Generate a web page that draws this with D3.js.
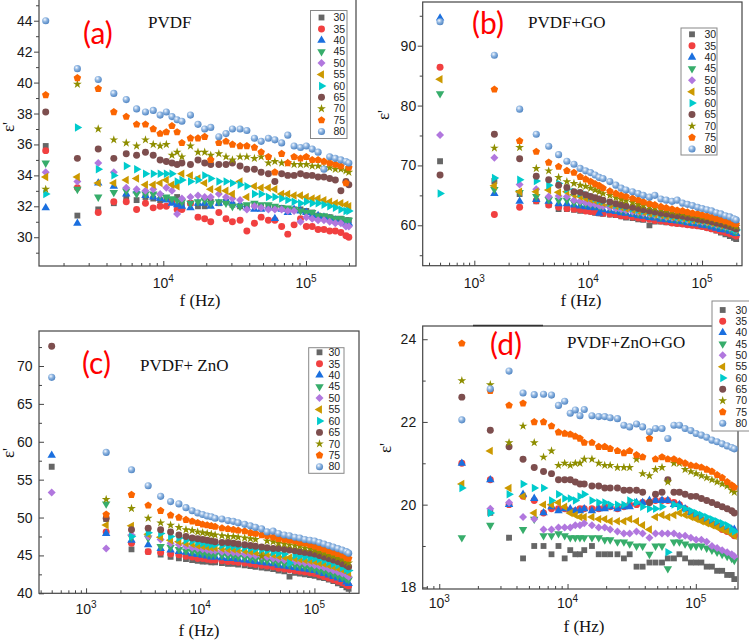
<!DOCTYPE html>
<html>
<head>
<meta charset="utf-8">
<title>ε' vs f</title>
<style>
  body { margin: 0; background: #fff; }
  svg { display: block; }
  .tick line { stroke: #444; stroke-width: 1; }
  .tick text { font-family: "Liberation Sans", Arial, sans-serif; font-size: 14px; fill: #1a1a1a; }
  .frame { fill: none; stroke: #444; stroke-width: 1.2; }
  .xlab { font-family: "Liberation Sans", Arial, sans-serif; font-size: 14px; fill: #1a1a1a; }
  .axtitle { font-family: "Liberation Serif", "Times New Roman", serif; font-size: 17px; fill: #111; }
  .tag { font-family: Lato, "Open Sans", sans-serif; font-size: 30px; fill: #ff0000; }
  .name { font-family: "Liberation Serif", "Times New Roman", serif; font-size: 17px; fill: #111; }
  .leg text { font-family: "Liberation Sans", Arial, sans-serif; font-size: 10.5px; fill: #222; }
  .leg rect { fill: #fff; stroke: #888; stroke-width: 1; }
</style>
</head>
<body>
<svg id="chart" width="749" height="642"></svg>

<script src="https://d3js.org/d3.v7.min.js"></script>
<script>
// temperatures (legend) and Origin "colorful" palette
const temps = ["30", "35", "40", "45", "50", "55", "60", "65", "70", "75", "80"];
const colors = ["#666666", "#f14040", "#1a6fdf", "#37ad6b", "#b177de", "#cc9900",
                "#00cbcc", "#7d4e4e", "#8e8e00", "#fb6501", "#6699cc"];

// measured frequencies (Hz)
const freqA = [1500, 2500, 3500, 4500, 5500, 6500, 7500, 8500, 9500, 10500, 11500, 12500, 13500,
  15500, 17500, 19500, 21500, 24500, 27500, 30500, 34500, 38500, 43500, 48500, 54500, 60500,
  67500, 74500, 82500, 91500, 100500, 110500, 121500, 133500, 146500, 160500, 175500, 190500, 199500];
const freqB = [500, ...freqA];

// (a) PVDF, one row per temperature 30..80
const epsA = [
  [35.9,31.4,31.8,32.2,32.6,32.4,32.6,32.5,32.4,32.5,32.3,32.6,32.1,32.2,32.0,32.0,32.3,32.2,32.3,32.1,32.0,32.0,32.1,32.0,32.0,31.9,31.9,31.8,31.8,31.8,31.7,31.6,31.4,31.3,31.3,31.2,31.2,31.1,31.1],
  [35.6,33.2,31.6,32.3,32.3,31.8,32.2,31.9,32.0,32.0,32.3,31.8,31.8,32.2,31.3,31.2,31.0,31.6,31.2,31.0,31.1,30.4,30.9,31.3,31.1,31.1,30.7,30.2,30.8,31.2,30.7,30.7,30.5,30.5,30.4,30.4,30.3,30.1,30.0],
  [31.9,30.9,33.5,33.3,32.8,33.0,32.7,32.6,32.5,32.4,32.2,32.1,32.0,31.9,32.2,32.2,32.0,32.2,32.4,32.2,32.1,31.9,31.8,31.8,31.9,31.2,31.8,31.6,31.8,31.7,31.6,31.4,31.4,31.3,31.2,31.1,31.0,30.9,30.9],
  [34.8,33.1,32.6,32.9,33.0,32.8,32.8,32.8,32.7,32.6,32.5,32.4,32.3,32.2,32.3,32.4,32.2,32.3,32.2,32.0,32.0,32.1,32.2,32.1,32.1,32.0,31.9,31.9,31.8,31.7,31.6,31.6,31.4,31.4,31.3,31.2,31.2,31.1,31.1],
  [34.2,33.6,34.8,34.2,33.2,33.1,33.0,33.1,32.8,33.2,33.0,31.5,32.5,32.6,32.7,32.6,32.6,32.8,32.6,32.5,32.4,31.8,32.0,31.9,31.8,31.8,31.8,31.7,31.7,31.0,31.3,31.2,31.1,31.1,31.0,30.9,30.9,30.7,30.7],
  [33.9,33.9,33.5,33.5,33.7,33.8,33.4,33.4,33.5,33.7,33.4,33.3,34.1,34.0,33.8,33.5,33.1,33.1,33.0,32.8,33.6,32.6,33.3,33.2,33.2,33.1,32.8,32.8,32.7,32.7,32.6,32.5,32.5,32.4,32.3,32.2,32.2,32.1,32.0],
  [32.8,37.1,34.4,34.0,34.6,34.4,34.1,34.1,34.1,34.1,34.1,33.6,33.7,33.6,33.7,34.0,33.8,33.6,33.6,33.5,33.4,33.3,32.8,32.8,32.6,32.6,32.5,32.4,32.3,32.2,32.3,32.2,32.2,32.1,32.0,31.9,31.8,31.7,31.7],
  [38.1,35.1,35.7,35.1,35.4,35.3,35.5,35.3,35.0,34.9,34.8,34.7,34.8,34.7,35.0,34.8,34.7,34.7,34.7,34.8,34.6,34.4,34.4,34.2,34.1,33.6,34.1,34.0,34.0,34.1,34.0,34.0,33.9,33.9,33.8,33.7,33.0,33.6,33.4],
  [33.1,39.9,37.0,36.3,36.1,35.9,36.3,36.0,35.9,36.0,35.3,35.5,35.2,35.9,35.5,35.5,35.3,35.4,35.2,35.0,35.2,35.2,35.1,35.2,34.8,34.9,34.8,34.8,34.7,34.7,34.7,34.6,34.6,34.5,34.5,34.4,34.4,34.3,34.2],
  [39.2,40.3,39.6,38.1,37.8,37.3,37.3,37.0,36.7,36.8,37.2,36.8,36.1,36.4,36.4,36.5,35.0,36.1,36.2,36.0,35.9,35.9,35.8,35.5,35.2,34.2,35.4,34.8,35.2,35.1,35.2,35.0,35.0,34.9,34.8,34.7,34.6,33.5,34.5],
  [44.0,40.9,40.2,39.3,38.9,38.3,38.1,38.2,37.9,38.1,37.8,37.6,37.5,37.9,37.3,37.0,37.1,36.5,36.7,37.0,37.0,36.9,36.4,36.2,36.4,36.3,36.1,36.6,35.9,35.8,35.9,35.7,35.5,34.4,35.2,35.1,35.0,34.9,34.8]
];

// (b) PVDF+GO
const epsB = [
  [70.7,67.4,65.2,64.0,63.4,62.7,62.7,62.6,62.4,62.4,62.3,62.1,62.0,61.9,61.8,61.7,61.5,61.3,61.2,61.0,60.9,60.0,60.6,60.6,60.5,60.4,60.3,60.2,60.1,60.0,59.9,59.8,59.6,59.4,59.1,58.8,58.5,58.2,57.9,57.7],
  [86.4,61.8,63.0,64.1,63.4,63.0,62.8,62.7,62.6,62.4,62.3,62.2,62.1,62.0,61.9,61.8,61.6,61.5,61.4,61.2,61.1,61.0,60.8,60.7,60.6,60.4,60.3,60.2,60.1,60.0,59.9,59.8,59.6,59.4,59.2,59.0,58.8,58.6,58.4,58.2],
  [94.6,65.3,64.0,64.3,64.0,63.6,63.6,63.4,63.2,63.1,63.0,62.9,62.0,62.6,62.4,62.3,62.1,62.0,61.8,61.6,61.5,61.3,61.2,61.0,60.9,60.8,60.7,60.6,60.4,60.3,60.2,60.0,59.9,59.7,59.5,59.3,59.2,59.0,58.8,58.6],
  [82.0,66.0,65.5,64.8,64.3,64.2,64.2,63.8,63.7,63.6,63.5,63.4,63.2,63.1,62.9,62.7,62.5,62.4,62.2,62.0,61.9,61.7,61.6,61.4,61.3,61.2,61.0,60.9,60.8,60.7,60.6,60.5,60.3,60.2,60.0,59.8,59.6,59.4,59.1,58.9],
  [75.1,71.3,66.8,66.0,64.8,64.9,64.8,64.2,64.0,63.8,63.6,63.5,63.3,63.2,63.0,62.8,62.7,62.5,62.3,62.2,62.0,61.9,61.7,61.6,61.4,61.3,61.2,61.1,60.9,60.8,60.7,60.6,60.5,60.3,60.1,60.0,59.8,59.6,59.4,59.2],
  [84.4,66.6,65.6,65.6,65.9,65.5,65.6,65.1,64.8,64.5,64.3,64.1,63.9,63.7,63.4,63.2,63.0,62.8,62.6,62.4,62.2,62.0,61.8,61.7,61.5,61.4,61.3,61.2,61.0,60.9,60.8,60.7,60.6,60.4,60.2,60.0,59.9,59.7,59.5,59.4],
  [65.3,67.9,67.6,67.4,66.7,67.0,66.0,65.6,65.3,65.1,64.8,64.5,64.2,64.0,63.7,63.4,63.2,63.0,62.8,62.6,62.4,62.2,62.0,61.8,61.7,61.5,61.4,61.3,61.1,61.0,60.9,60.8,60.7,60.5,60.3,60.1,59.9,59.7,59.4,59.2],
  [68.4,75.2,71.1,68.2,67.6,66.7,66.3,65.6,65.5,65.1,64.8,64.6,64.4,64.2,63.9,63.6,63.4,63.2,63.0,62.8,62.6,62.4,62.2,62.0,61.9,61.7,61.6,61.5,61.3,61.2,61.0,60.9,60.8,60.6,60.4,60.2,60.0,59.8,59.6,59.4],
  [null,72.9,73.0,69.5,69.1,68.0,67.3,67.0,66.7,66.5,66.2,65.9,65.6,65.3,65.0,64.6,64.3,64.1,63.8,63.5,63.3,63.1,62.9,62.7,62.5,62.3,62.2,62.0,61.9,61.7,61.6,61.4,61.3,61.1,60.9,60.7,60.5,60.2,60.0,59.8],
  [null,82.7,74.1,72.3,70.5,69.8,69.1,68.8,68.1,67.7,67.3,66.9,66.6,66.2,65.7,65.3,65.0,64.8,64.5,64.2,63.9,63.6,63.4,63.1,62.9,62.7,62.5,62.4,62.2,62.0,61.9,61.7,61.5,61.3,61.1,60.9,60.7,60.5,60.3,60.2],
  [94.0,88.4,79.4,75.2,73.2,71.8,70.7,70.2,69.5,69.1,68.8,68.4,68.0,67.8,67.3,66.7,66.2,65.9,65.6,65.3,65.0,64.7,65.0,64.4,64.2,64.0,64.2,63.7,63.5,63.3,63.0,62.8,62.6,62.4,62.1,61.9,61.6,61.4,61.1,60.9]
];

// (c) PVDF+ ZnO
const epsC = [
  [56.7,49.8,45.8,45.5,45.1,44.8,44.6,44.5,44.4,44.3,44.2,44.2,44.1,44.1,44.0,43.9,43.9,43.8,43.7,43.6,43.5,43.4,43.3,43.2,43.0,42.9,42.2,42.7,42.6,42.5,42.4,42.3,42.1,42.0,41.8,41.6,41.3,41.1,40.8,40.6],
  [null,48.1,46.6,45.5,45.4,45.2,45.1,44.9,44.8,44.6,44.6,44.5,44.4,44.4,44.3,44.2,44.2,44.1,44.0,43.9,43.8,43.7,43.6,43.5,43.3,43.2,43.1,43.0,42.9,42.8,42.7,42.6,42.4,42.2,42.0,41.8,41.6,41.4,41.1,41.0],
  [58.2,47.9,47.0,46.4,45.9,45.7,45.5,45.4,45.2,45.1,45.0,44.9,44.8,44.8,44.7,44.6,44.6,44.5,44.4,44.3,44.2,44.1,44.0,43.9,43.7,43.6,43.5,43.4,43.3,43.2,43.1,43.0,42.8,42.6,42.4,42.2,42.0,41.8,41.5,41.3],
  [null,51.8,47.4,47.3,46.2,46.1,45.8,45.6,45.5,45.4,45.3,45.2,45.1,45.1,45.0,44.9,44.9,44.8,44.7,44.6,44.5,44.4,44.3,44.2,44.0,43.9,43.8,43.7,43.6,43.5,43.3,43.2,43.0,42.9,42.7,42.5,42.3,42.1,41.9,41.8],
  [53.3,45.9,47.7,47.5,47.1,46.6,46.4,46.2,46.0,45.9,45.8,45.7,45.6,45.6,45.5,45.4,45.4,45.3,45.2,45.1,45.0,44.9,44.8,44.6,44.5,44.4,44.3,44.2,44.1,44.0,43.9,43.7,43.6,43.4,43.2,43.0,42.8,42.6,42.4,42.2],
  [null,49.0,48.9,47.8,47.4,47.0,46.8,46.6,46.5,46.3,46.2,46.1,46.0,46.0,45.9,45.8,45.8,45.7,45.6,45.5,45.4,45.3,45.2,45.1,44.9,44.8,44.7,44.6,44.5,44.4,44.3,44.2,44.0,43.9,43.7,43.5,43.3,43.1,42.9,42.7],
  [null,null,47.5,48.0,47.9,47.5,47.3,47.0,46.9,46.7,46.6,46.5,46.4,46.4,46.3,46.2,46.2,46.1,46.0,45.9,45.8,45.7,45.6,45.4,45.3,45.2,44.0,45.0,44.9,44.8,44.7,44.6,44.5,44.3,44.1,43.9,43.7,43.4,43.2,43.0],
  [72.6,49.9,48.4,48.6,48.4,48.1,47.7,47.5,47.3,47.2,47.1,47.0,46.9,46.8,46.7,46.7,46.6,46.5,46.4,46.3,46.2,46.1,46.0,45.9,45.9,45.8,45.7,45.6,45.5,45.4,45.3,45.2,45.0,44.8,44.6,44.4,44.2,43.9,43.7,43.5],
  [null,52.4,51.2,49.9,49.3,49.0,48.7,48.4,48.3,48.1,48.0,47.9,47.8,47.7,47.6,47.5,47.5,47.4,47.3,47.2,47.1,44.9,46.9,46.8,46.6,46.5,46.4,46.3,46.2,46.0,45.9,45.7,45.5,45.3,45.1,44.9,44.7,44.5,44.2,44.0],
  [null,50.4,53.0,51.6,50.9,50.3,50.0,49.7,49.5,49.3,49.1,49.0,48.9,48.8,48.6,48.5,48.4,48.3,48.2,48.0,47.9,47.7,47.6,47.4,47.2,47.1,47.0,46.9,46.7,46.6,46.4,46.2,46.0,45.8,45.6,45.4,45.2,45.0,44.7,44.6],
  [68.5,58.6,56.3,54.2,52.8,52.1,51.8,51.3,50.9,50.6,50.4,50.2,50.1,49.9,49.8,49.6,49.5,49.3,49.1,48.9,48.7,48.5,48.1,48.2,47.9,47.7,47.6,47.4,47.3,47.1,47.0,46.9,46.7,46.5,46.3,46.1,45.9,45.7,45.5,45.3]
];

// (d) PVDF+ZnO+GO
const epsD = [
  [null,19.8,19.2,18.7,19.0,19.0,18.8,19.0,18.7,18.9,18.8,18.8,18.9,19.0,18.8,18.8,18.8,18.8,18.7,18.8,18.5,18.5,18.6,18.6,18.6,18.7,18.7,18.8,18.7,18.6,18.6,18.6,18.5,18.5,18.4,18.4,18.3,18.3,18.2],
  [21.0,20.6,20.0,20.2,20.1,19.8,19.9,19.9,19.9,19.85,19.85,19.9,19.9,19.9,19.9,19.95,19.95,19.9,19.95,20.0,20.0,20.05,20.05,20.1,20.1,20.1,20.05,20.0,19.9,19.8,19.7,19.65,19.6,19.55,19.5,19.4,19.35,19.3,19.25],
  [21.0,20.6,20.0,20.25,20.15,19.8,19.95,19.85,19.9,19.9,19.85,19.85,19.9,19.85,19.9,19.9,19.95,19.9,19.95,19.95,20.05,20.05,20.1,20.1,20.1,20.1,20.0,20.0,19.9,19.8,19.75,19.65,19.6,19.55,19.5,19.45,19.4,19.4,19.4],
  [19.2,19.5,null,19.4,19.65,19.25,19.25,19.3,19.25,19.2,19.2,19.2,19.2,19.2,19.2,19.15,19.15,19.1,19.1,19.05,19.0,19.0,18.8,19.0,19.0,18.45,19.1,19.1,19.05,19.0,19.0,19.0,18.95,18.9,18.85,18.8,18.75,18.7,18.65],
  [null,19.9,20.05,19.7,19.65,19.4,19.4,19.45,19.45,19.45,19.5,19.5,19.55,19.5,19.45,19.45,19.4,19.35,19.3,19.3,19.35,19.3,19.2,19.3,19.3,19.3,19.3,19.25,19.25,19.2,19.15,19.15,19.1,19.0,18.95,18.9,18.85,18.8,18.75],
  [20.5,21.3,20.4,20.2,19.8,20.0,20.0,20.05,19.95,19.8,19.75,19.7,19.7,19.7,19.65,19.65,19.6,19.6,19.6,19.65,19.6,19.5,19.4,19.7,19.75,19.7,19.75,19.8,19.75,19.7,19.65,19.6,19.55,19.5,19.45,19.4,19.35,19.3,19.25],
  [20.4,19.8,20.25,20.5,20.4,20.4,20.1,20.25,20.15,20.15,20.1,20.2,20.25,20.1,20.05,20.05,20.0,20.0,20.0,20.1,20.05,19.95,19.9,19.9,19.95,18.85,20.0,19.95,19.9,19.85,19.8,19.75,19.7,19.65,19.6,19.55,19.5,19.4,19.35],
  [22.6,21.8,21.4,21.1,20.9,20.8,20.75,20.6,20.6,20.6,20.55,20.5,20.5,20.45,20.45,20.4,20.4,20.4,20.35,20.35,20.35,20.3,20.05,20.25,20.3,20.6,20.3,20.3,20.25,20.2,20.2,20.15,20.1,20.05,20.0,19.95,19.9,19.85,19.8],
  [23.0,22.9,21.5,21.9,21.5,21.15,21.3,20.95,21.0,20.95,21.0,21.0,21.1,21.1,21.0,20.95,20.95,20.9,20.9,20.9,21.1,20.75,20.7,20.85,20.9,20.55,21.0,21.0,20.85,20.8,20.75,20.7,20.65,20.6,20.55,20.5,20.45,20.35,20.3],
  [23.9,22.75,22.4,22.45,22.0,22.0,21.9,21.75,21.72,21.7,21.65,21.6,21.5,21.5,21.4,21.4,21.35,21.3,21.25,21.3,21.2,21.15,21.6,21.1,21.15,21.1,21.1,21.05,21.0,20.95,20.93,20.9,20.85,20.8,20.72,20.65,20.55,20.47,20.42],
  [22.05,22.8,23.23,22.7,22.66,22.67,22.65,22.4,22.5,22.21,22.29,22.15,22.3,22.15,22.13,22.13,22.1,22.08,21.92,21.88,21.95,21.88,21.76,21.84,21.84,21.6,21.92,21.92,21.84,21.79,21.72,21.68,21.63,21.56,21.52,21.47,21.42,21.38,21.35]
];

// tick values
const yMajorA = [30, 32, 34, 36, 38, 40, 42, 44], yMinorA = [29, 31, 33, 35, 37, 39, 41, 43, 45];
const yMajorB = [60, 70, 80, 90], yMinorB = [55, 65, 75, 85, 95];
const yMajorC = [40, 45, 50, 55, 60, 65, 70], yMinorC = [42.5, 47.5, 52.5, 57.5, 62.5, 67.5, 72.5];
const yMajorD = [18, 20, 22, 24], yMinorD = [19, 21, 23];

const svg = d3.select("#chart");
const defs = svg.append("defs");

// shaded sphere for the 80 series
const grad = defs.append("radialGradient").attr("id", "sphere")
  .attr("cx", "38%").attr("cy", "34%").attr("r", "68%");
grad.append("stop").attr("offset", "0%").attr("stop-color", "#f4f8ff");
grad.append("stop").attr("offset", "45%").attr("stop-color", "#8db4e0");
grad.append("stop").attr("offset", "100%").attr("stop-color", "#4f84c2");

const pentagon = {
  draw(ctx, size) {
    const r = Math.sqrt(size / 2.3776);
    for (let i = 0; i < 5; i++) {
      const a = -Math.PI / 2 + i * 2 * Math.PI / 5;
      if (i === 0) ctx.moveTo(r * Math.cos(a), r * Math.sin(a));
      else ctx.lineTo(r * Math.cos(a), r * Math.sin(a));
    }
    ctx.closePath();
  }
};

const markers = [
  { type: d3.symbolSquare, size: 34, rot: 0 },
  { type: d3.symbolCircle, size: 38, rot: 0 },
  { type: d3.symbolTriangle, size: 31, rot: 0 },
  { type: d3.symbolTriangle, size: 31, rot: 180 },
  { type: d3.symbolSquare, size: 32, rot: 45 },
  { type: d3.symbolTriangle, size: 31, rot: -90 },
  { type: d3.symbolTriangle, size: 31, rot: 90 },
  { type: d3.symbolCircle, size: 38, rot: 0 },
  { type: d3.symbolStar, size: 24, rot: 0 },
  { type: pentagon, size: 37, rot: 0 },
  { type: d3.symbolCircle, size: 40, rot: 0 }
];
const fillOf = i => i === 10 ? "url(#sphere)" : colors[i];

const panels = [
  { key: "a", freq: freqA, eps: epsA, l: 39, r: 356, t: -2, b: 266,
    xDom: [1346, 224000], yDom: [28.14, 45.47], yMajor: yMajorA, yMinor: yMinorA, yOut: true,
    xMajor: [1e4, 1e5], xLabDy: 22, xTitle: [200, 306], yTitle: [14, 127],
    tag: ["(a)", 83, 44], name: ["PVDF", 148, 28],
    leg: { x0: 310.5, x1: 347, y0: 10.5, y1: 138.5, sx: 321.5, lx: 333.5, ey: 17.5, dy: 11.4 } },
  { key: "b", freq: freqB, eps: epsB, l: 422.7, r: 742, t: 2, b: 265.7,
    xDom: [352, 224400], yDom: [53.25, 97.3], yMajor: yMajorB, yMinor: yMinorB, yOut: true,
    xMajor: [1e3, 1e4, 1e5], xLabDy: 22, xTitle: [581, 306], yTitle: [389, 115],
    tag: ["(b)", 472, 34], name: ["PVDF+GO", 528, 28],
    leg: { x0: 681, x1: 717, y0: 28, y1: 155, sx: 692, lx: 704.5, ey: 34.3, dy: 11.47 } },
  { key: "c", freq: freqB, eps: epsC, l: 39, r: 359, t: 331, b: 593.3,
    xDom: [387, 245800], yDom: [40, 74.62], yMajor: yMajorC, yMinor: yMinorC, yOut: false,
    xMajor: [1e3, 1e4, 1e5], xLabDy: 21, xTitle: [199, 636], yTitle: [14, 453],
    tag: ["(c)", 82, 374], name: ["PVDF+ ZnO", 140, 371],
    leg: { x0: 308.7, x1: 344, y0: 347.7, y1: 473.3, sx: 319.5, lx: 328.5, ey: 352.3, dy: 11.44 } },
  { key: "d", freq: freqA, eps: epsD, l: 422.7, r: 738, t: 326, b: 589,
    xDom: [743, 213200], yDom: [17.96, 24.32], yMajor: yMajorD, yMinor: yMinorD, yOut: false,
    xMajor: [1e3, 1e4, 1e5], xLabDy: 19, xTitle: [584, 632], yTitle: [391, 448],
    tag: ["(d)", 490, 355], name: ["PVDF+ZnO+GO", 567, 348],
    leg: { x0: 712, x1: 760, y0: 301, y1: 431, sx: 722.7, lx: 735.5, ey: 310, dy: 11.33 } }
];

function drawPanel(p) {
  const x = d3.scaleLog().domain(p.xDom).range([p.l, p.r]);
  const y = d3.scaleLinear().domain(p.yDom).range([p.b, p.t]);
  const g = svg.append("g");

  const top = Math.max(p.t, 0);
  defs.append("clipPath").attr("id", "clip-" + p.key)
    .append("rect").attr("x", p.l).attr("y", top)
    .attr("width", p.r - p.l).attr("height", p.b - top);

  // y ticks
  const ySize = p.yOut ? 5 : -5;
  g.append("g").attr("transform", `translate(${p.l},0)`)
    .call(d3.axisLeft(y).tickValues(p.yMajor).tickSize(ySize)
      .tickPadding(p.yOut ? 1.5 : 6.5).tickFormat(d3.format("d")))
    .call(a => a.select(".domain").remove());
  g.append("g").attr("transform", `translate(${p.l},0)`)
    .call(d3.axisLeft(y).tickValues(p.yMinor).tickSize(p.yOut ? 3 : -3).tickFormat(""))
    .call(a => a.select(".domain").remove());

  // x ticks (inward), log minors
  const minors = x.ticks().filter(v => Math.abs(Math.log10(v) % 1) > 1e-6);
  g.append("g").attr("transform", `translate(0,${p.b})`)
    .call(d3.axisBottom(x).tickValues(p.xMajor).tickSize(-5).tickFormat(""))
    .call(a => a.select(".domain").remove());
  g.append("g").attr("transform", `translate(0,${p.b})`)
    .call(d3.axisBottom(x).tickValues(minors).tickSize(-3).tickFormat(""))
    .call(a => a.select(".domain").remove());

  p.xMajor.forEach(v => {
    const t = g.append("text").attr("class", "xlab")
      .attr("x", x(v)).attr("y", p.b + p.xLabDy).attr("text-anchor", "middle");
    t.append("tspan").text("10");
    t.append("tspan").attr("dy", -6).attr("font-size", 10).text(Math.round(Math.log10(v)));
  });

  g.append("rect").attr("class", "frame")
    .attr("x", p.l).attr("y", p.t).attr("width", p.r - p.l).attr("height", p.b - p.t);

  // axis titles
  g.append("text").attr("class", "axtitle").attr("text-anchor", "middle")
    .attr("x", p.xTitle[0]).attr("y", p.xTitle[1]).text("f (Hz)");
  g.append("text").attr("class", "axtitle").attr("text-anchor", "middle")
    .attr("transform", `translate(${p.yTitle[0]},${p.yTitle[1]}) rotate(-90)`)
    .attr("font-size", 15).text("ε'");

  // data
  const pts = g.append("g").attr("clip-path", `url(#clip-${p.key})`);
  p.eps.forEach((vals, si) => {
    const m = markers[si];
    const sym = d3.symbol().type(m.type).size(m.size);
    const rows = p.freq.map((f, i) => ({ f, v: vals[i] })).filter(d => d.v != null);
    pts.append("g").selectAll("path").data(rows).join("path")
      .attr("d", sym)
      .attr("transform", d => `translate(${x(d.f)},${y(d.v)}) rotate(${m.rot})`)
      .attr("fill", fillOf(si));
  });

  // labels
  g.append("text").attr("class", "tag").attr("x", p.tag[1]).attr("y", p.tag[2]).text(p.tag[0]);
  g.append("text").attr("class", "name").attr("x", p.name[1]).attr("y", p.name[2]).text(p.name[0]);

  // legend
  const L = p.leg;
  const lg = g.append("g").attr("class", "leg");
  lg.append("rect").attr("x", L.x0).attr("y", L.y0).attr("width", L.x1 - L.x0).attr("height", L.y1 - L.y0);
  const items = lg.selectAll("g.item").data(temps).join("g").attr("class", "item")
    .attr("transform", (d, i) => `translate(0,${L.ey + i * L.dy})`);
  items.append("path")
    .attr("d", (d, i) => d3.symbol().type(markers[i].type).size(markers[i].size)())
    .attr("transform", (d, i) => `translate(${L.sx},0) rotate(${markers[i].rot})`)
    .attr("fill", (d, i) => fillOf(i));
  items.append("text").attr("x", L.lx).attr("dy", "0.36em").text(d => d);
}

panels.forEach(drawPanel);

// darker stretch of the top spine in panel (d)
svg.append("line").attr("x1", 473).attr("x2", 543).attr("y1", 325.5).attr("y2", 325.5)
  .attr("stroke", "#333").attr("stroke-width", 1.6);
</script>
</body>
</html>
